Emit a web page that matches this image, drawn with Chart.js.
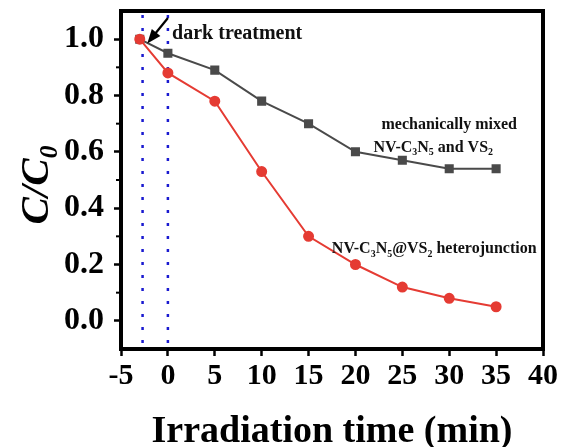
<!DOCTYPE html>
<html>
<head>
<meta charset="utf-8">
<script src="https://cdn.jsdelivr.net/npm/chart.js@4"></script>
<style>
  html, body { margin: 0; padding: 0; background: #fff; }
  #wrap { width: 566px; height: 447px; }
</style>
</head>
<body>
<div id="wrap"><canvas id="chart" width="566" height="447"></canvas></div>
<script>
// =========================
// DATA
// =========================

const times = [-3, 0, 5, 10, 15, 20, 25, 30, 35];
const heteroValues = [1.0, 0.88, 0.78, 0.53, 0.30, 0.20, 0.12, 0.08, 0.05];
const mixedValues = [1.0, 0.95, 0.89, 0.78, 0.70, 0.60, 0.57, 0.54, 0.54];
const xTicks = [-5, 0, 5, 10, 15, 20, 25, 30, 35, 40];
const yTicks = [0.0, 0.2, 0.4, 0.6, 0.8, 1.0];
const yMinorTicks = [0.1, 0.3, 0.5, 0.7, 0.9];
const darkLines = [-2.7, 0];

const SERIF = "'Liberation Serif', 'DejaVu Serif', serif";

// text with subscripts: parts = [[text, isSub], ...]
function richWidth(ctx, parts, size, style) {
  let w = 0;
  parts.forEach((p) => {
    ctx.font = style + " " + (p[1] ? size * 0.62 : size) + "px " + SERIF;
    w += ctx.measureText(p[0]).width;
  });
  return w;
}

function drawRich(ctx, parts, x, y, size, style, align) {
  const w = richWidth(ctx, parts, size, style);
  let cx = align === "center" ? x - w / 2 : x;
  ctx.textAlign = "left";
  ctx.textBaseline = "alphabetic";
  parts.forEach((p) => {
    const s = p[1] ? size * 0.62 : size;
    ctx.font = style + " " + s + "px " + SERIF;
    ctx.fillText(p[0], cx, p[1] ? y + size * 0.22 : y);
    cx += ctx.measureText(p[0]).width;
  });
}

// =========================
// EXTRAS PLUGIN
// =========================

const extras = {
  id: "extras",
  beforeDatasetsDraw(chart) {
    const ctx = chart.ctx;
    const xs = chart.scales.x;
    const area = chart.chartArea;
    ctx.save();
    ctx.strokeStyle = "#1a1ad0";
    ctx.lineWidth = 2.5;
    ctx.setLineDash([3, 10]);
    darkLines.forEach((v) => {
      const px = xs.getPixelForValue(v);
      ctx.beginPath();
      ctx.moveTo(px, area.top + 4);
      ctx.lineTo(px, area.bottom);
      ctx.stroke();
    });
    ctx.restore();
  },
  afterDraw(chart) {
    const ctx = chart.ctx;
    const xs = chart.scales.x;
    const ys = chart.scales.y;
    const area = chart.chartArea;
    ctx.save();

    // frame
    ctx.strokeStyle = "#000";
    ctx.lineWidth = 4;
    ctx.strokeRect(area.left, area.top, area.right - area.left, area.bottom - area.top);

    // minor y ticks
    ctx.lineWidth = 2;
    yMinorTicks.forEach((v) => {
      const py = ys.getPixelForValue(v);
      ctx.beginPath();
      ctx.moveTo(area.left, py);
      ctx.lineTo(area.left - 5, py);
      ctx.stroke();
    });

    // arrow
    const x1 = xs.getPixelForValue(0), y1 = ys.getPixelForValue(1.075);
    const x2 = xs.getPixelForValue(-2.2), y2 = ys.getPixelForValue(0.985);
    const ang = Math.atan2(y2 - y1, x2 - x1);
    ctx.lineWidth = 2.2;
    ctx.beginPath();
    ctx.moveTo(x1, y1);
    ctx.lineTo(x2 - 8 * Math.cos(ang), y2 - 8 * Math.sin(ang));
    ctx.stroke();
    ctx.fillStyle = "#000";
    ctx.beginPath();
    ctx.moveTo(x2, y2);
    ctx.lineTo(x2 - 14 * Math.cos(ang) + 5.5 * Math.sin(ang), y2 - 14 * Math.sin(ang) - 5.5 * Math.cos(ang));
    ctx.lineTo(x2 - 14 * Math.cos(ang) - 5.5 * Math.sin(ang), y2 - 14 * Math.sin(ang) + 5.5 * Math.cos(ang));
    ctx.closePath();
    ctx.fill();

    // annotations
    ctx.fillStyle = "#111";
    drawRich(ctx, [["dark treatment", 0]], xs.getPixelForValue(0.45), ys.getPixelForValue(1.0), 20, "bold", "left");
    drawRich(ctx, [["mechanically mixed", 0]], xs.getPixelForValue(30), ys.getPixelForValue(0.68), 16, "bold", "center");
    drawRich(ctx, [["NV-C", 0], ["3", 1], ["N", 0], ["5", 1], [" and VS", 0], ["2", 1]],
      xs.getPixelForValue(28.3), ys.getPixelForValue(0.60), 16, "bold", "center");
    drawRich(ctx, [["NV-C", 0], ["3", 1], ["N", 0], ["5", 1], ["@VS", 0], ["2", 1], [" heterojunction", 0]],
      xs.getPixelForValue(28.4), ys.getPixelForValue(0.24), 16, "bold", "center");

    // axis titles
    ctx.fillStyle = "#000";
    drawRich(ctx, [["Irradiation time (min)", 0]], (area.left + area.right) / 2, 442, 38, "bold", "center");
    ctx.translate(48, 185);
    ctx.rotate(-Math.PI / 2);
    drawRich(ctx, [["C/C", 0], ["0", 1]], 0, 0, 41, "italic bold", "center");
    ctx.restore();
  },
};

// =========================
// CHART
// =========================

new Chart(document.getElementById("chart"), {
  type: "line",
  data: {
    datasets: [
      {
        label: "NV-C3N5@VS2 heterojunction",
        data: times.map((t, i) => ({ x: t, y: heteroValues[i] })),
        borderColor: "#e53b33",
        backgroundColor: "#e53b33",
        borderWidth: 2,
        pointStyle: "circle",
        pointRadius: 4.5,
        tension: 0,
      },
      {
        label: "mechanically mixed NV-C3N5 and VS2",
        data: times.map((t, i) => ({ x: t, y: mixedValues[i] })),
        borderColor: "#4a4a4a",
        backgroundColor: "#4a4a4a",
        borderWidth: 2,
        pointStyle: "rect",
        pointRadius: 5,
        tension: 0,
      },
    ],
  },
  options: {
    responsive: false,
    animation: false,
    layout: { padding: { top: 11, right: 23, left: 0, bottom: 0 } },
    plugins: { legend: { display: false }, tooltip: { enabled: false } },
    scales: {
      x: {
        type: "linear",
        min: -5,
        max: 40,
        afterFit: (s) => { s.height = 98; s.paddingLeft = 0; s.paddingRight = 0; },
        afterBuildTicks: (s) => { s.ticks = xTicks.map((v) => ({ value: v })); },
        border: { display: false },
        grid: { drawOnChartArea: false, tickLength: 7, tickWidth: 2.5, color: "#000" },
        ticks: {
          color: "#000",
          padding: 2,
          maxRotation: 0,
          font: { family: SERIF, size: 30, weight: "bold" },
          callback: (v) => String(v),
        },
      },
      y: {
        min: -0.1,
        max: 1.1,
        afterFit: (s) => { s.width = 121; s.paddingTop = 0; s.paddingBottom = 0; },
        afterBuildTicks: (s) => { s.ticks = yTicks.map((v) => ({ value: v })); },
        border: { display: false },
        grid: { drawOnChartArea: false, tickLength: 7, tickWidth: 2.5, color: "#000" },
        ticks: {
          color: "#000",
          padding: 10,
          font: { family: SERIF, size: 32, weight: "bold" },
          callback: (v) => Number(v).toFixed(1),
        },
      },
    },
  },
  plugins: [extras],
});
</script>
</body>
</html>
